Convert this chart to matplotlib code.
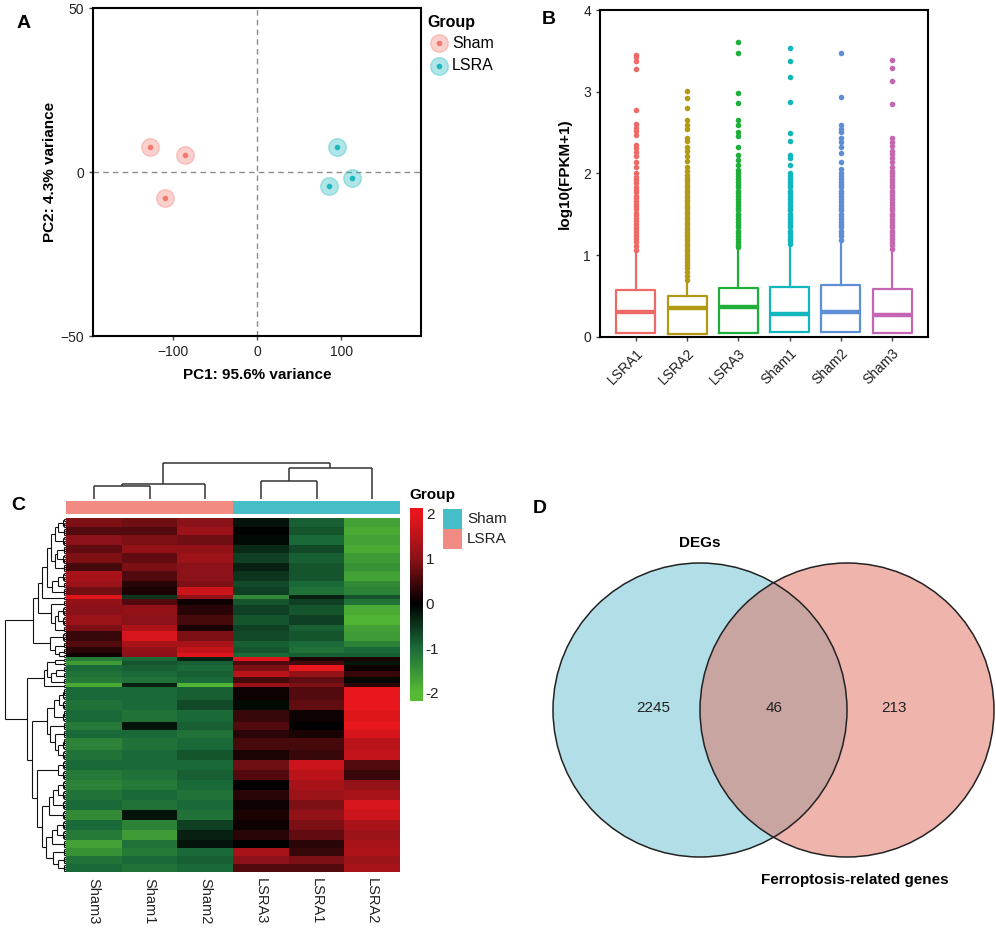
import numpy as np
import matplotlib
matplotlib.use('Agg')
import matplotlib.pyplot as plt
from matplotlib.colors import LinearSegmentedColormap, Normalize
from matplotlib.patches import Circle, Rectangle
from matplotlib.collections import LineCollection

plt.rcParams['font.family'] = ['Liberation Sans', 'DejaVu Sans']

W, H = 996, 930

# ---------------- A: PCA
pca_group = ['Sham', 'Sham', 'Sham', 'LSRA', 'LSRA', 'LSRA']
pc1 = [-127, -86, -109, 95, 113, 86]
pc2 = [7.6, 5.2, -7.9, 7.6, -1.9, -4.3]
pca_colors = {'Sham': '#F2796F', 'LSRA': '#1DB8BE'}

# ---------------- B: expression boxplots
box_samples = ['LSRA1', 'LSRA2', 'LSRA3', 'Sham1', 'Sham2', 'Sham3']
box_colors = ['#EE6A66', '#B39A14', '#1DAF3A', '#12B7BE', '#5E8ED6', '#C466B3']
box_q1 = [0.053, 0.033, 0.053, 0.057, 0.060, 0.053]
box_med = [0.31, 0.35, 0.37, 0.285, 0.30, 0.27]
box_q3 = [0.575, 0.50, 0.595, 0.61, 0.63, 0.59]
box_whishi = [1.03, 0.66, 1.07, 1.11, 1.15, 1.04]
box_fliers = [
    [3.45, 3.42, 3.38, 3.28, 2.78, 2.60, 2.56, 2.52, 2.47, 2.35, 2.31, 2.26, 2.21, 2.14, 2.08,
     2.01, 1.96, 1.92, 1.88, 1.84, 1.80, 1.77, 1.73, 1.70, 1.66, 1.63, 1.60, 1.56, 1.52, 1.49,
     1.45, 1.42, 1.38, 1.35, 1.31, 1.27, 1.24, 1.20, 1.16, 1.11, 1.07],
    [3.01, 2.92, 2.80, 2.66, 2.59, 2.55, 2.44, 2.40, 2.32, 2.28, 2.21, 2.15, 2.08, 2.03, 1.98,
     1.95, 1.92, 1.89, 1.86, 1.83, 1.80, 1.77, 1.74, 1.71, 1.68, 1.65, 1.62, 1.59, 1.56, 1.53,
     1.50, 1.47, 1.44, 1.41, 1.38, 1.35, 1.32, 1.29, 1.26, 1.23, 1.20, 1.17, 1.14, 1.11, 1.08,
     1.05, 1.02, 0.99, 0.96, 0.92, 0.88, 0.84, 0.80, 0.75, 0.70],
    [3.61, 3.48, 2.99, 2.86, 2.66, 2.59, 2.51, 2.46, 2.32, 2.23, 2.16, 2.10, 2.04, 2.00, 1.97,
     1.93, 1.90, 1.86, 1.83, 1.79, 1.76, 1.72, 1.69, 1.65, 1.62, 1.58, 1.55, 1.51, 1.48, 1.44,
     1.41, 1.37, 1.34, 1.30, 1.27, 1.23, 1.20, 1.16, 1.13, 1.10],
    [3.54, 3.38, 3.18, 2.87, 2.49, 2.40, 2.23, 2.19, 2.11, 2.00, 1.97, 1.93, 1.90, 1.86, 1.83,
     1.79, 1.76, 1.72, 1.69, 1.65, 1.62, 1.58, 1.55, 1.51, 1.48, 1.44, 1.41, 1.37, 1.34, 1.30,
     1.27, 1.23, 1.20, 1.17, 1.14],
    [3.47, 2.94, 2.59, 2.55, 2.51, 2.44, 2.39, 2.32, 2.25, 2.14, 2.06, 2.00, 1.97, 1.93, 1.90,
     1.86, 1.83, 1.79, 1.76, 1.72, 1.69, 1.65, 1.62, 1.58, 1.55, 1.51, 1.48, 1.44, 1.41, 1.37,
     1.34, 1.30, 1.27, 1.23, 1.19],
    [3.39, 3.29, 3.13, 2.85, 2.43, 2.39, 2.34, 2.28, 2.24, 2.19, 2.14, 2.08, 2.03, 2.00, 1.97,
     1.93, 1.90, 1.86, 1.83, 1.79, 1.76, 1.72, 1.69, 1.65, 1.62, 1.58, 1.55, 1.51, 1.48, 1.44,
     1.41, 1.37, 1.34, 1.30, 1.27, 1.23, 1.20, 1.16, 1.12, 1.08],
]

# ---------------- C: heatmap (z-scores, bands of rows read top to bottom)
heat_cols = ['Sham3', 'Sham1', 'Sham2', 'LSRA3', 'LSRA1', 'LSRA2']
heat_col_group = ['Sham', 'Sham', 'Sham', 'LSRA', 'LSRA', 'LSRA']
band_rows = [5, 4, 5, 4, 5, 4, 5, 3, 4, 2, 3, 5, 5, 3, 5, 3, 3, 2,
             2, 2, 3, 3, 3, 2,
             6, 5, 6, 4, 4, 6, 5, 5, 5, 5, 5, 5, 5, 5, 5, 4, 4, 4, 4]
band_values = [
    [0.9, 0.8, 1.0, -0.2, -0.9, -1.7],
    [0.6, 0.6, 1.2, 0.0, -0.8, -1.8],
    [1.0, 0.9, 0.8, -0.1, -1.0, -1.7],
    [0.7, 1.1, 1.1, -0.4, -0.7, -1.8],
    [0.9, 0.7, 1.2, -0.6, -0.9, -1.6],
    [0.5, 0.9, 1.0, -0.3, -0.8, -1.5],
    [1.3, 0.6, 1.0, -0.5, -0.8, -1.7],
    [1.2, 0.3, 0.9, -0.7, -1.0, -1.4],
    [0.8, 0.2, 1.7, -0.6, -1.1, -1.3],
    [1.9, -0.5, 1.1, -1.4, -0.3, -0.8],
    [1.1, 0.6, 0.1, -0.8, -0.6, -1.1],
    [1.0, 1.1, 0.3, -0.6, -0.8, -1.8],
    [1.2, 1.0, 0.5, -0.8, -0.6, -1.9],
    [0.9, 1.4, 0.2, -0.6, -0.9, -1.7],
    [0.4, 1.8, 0.9, -0.7, -0.8, -1.6],
    [0.6, 1.3, 1.3, -0.9, -1.0, -1.3],
    [0.3, 1.1, 1.6, -0.8, -1.1, -1.0],
    [0.1, 1.0, 1.9, -1.0, -0.9, -0.9],
    [-1.2, -1.0, -0.3, 1.9, 0.2, 0.2],
    [-1.6, -0.8, -0.9, 0.6, 0.5, -0.2],
    [-1.0, -0.9, -1.0, 0.9, 2.0, 0.1],
    [-1.1, -1.0, -0.9, 1.5, 1.1, 0.4],
    [-1.2, -1.1, -1.0, 0.5, 0.7, -0.1],
    [-1.8, -0.3, -1.9, 1.2, 0.9, 0.3],
    [-1.0, -1.0, -0.9, 0.1, 0.6, 2.0],
    [-1.1, -1.0, -0.7, -0.1, 0.7, 2.0],
    [-1.0, -1.1, -1.0, 0.4, 0.1, 1.9],
    [-1.2, -0.2, -0.9, 0.6, 0.0, 2.0],
    [-1.0, -1.0, -1.1, 0.3, 0.2, 1.8],
    [-1.3, -1.1, -1.0, 0.5, 0.5, 1.5],
    [-1.1, -1.0, -0.8, 0.2, 0.4, 1.6],
    [-1.0, -1.0, -1.0, 0.8, 1.7, 0.6],
    [-1.2, -1.1, -0.9, 0.6, 1.5, 0.4],
    [-1.3, -1.2, -1.0, 0.0, 1.3, 1.1],
    [-1.1, -1.0, -1.1, 0.3, 1.2, 1.3],
    [-1.0, -1.1, -1.0, 0.1, 0.9, 1.8],
    [-1.4, -0.2, -1.1, 0.2, 1.1, 1.7],
    [-1.0, -1.3, -0.6, 0.1, 0.9, 1.3],
    [-1.2, -1.6, -0.3, 0.3, 0.7, 1.2],
    [-1.7, -1.1, -0.2, 0.0, 0.3, 1.3],
    [-1.5, -1.2, -1.0, 1.3, 0.4, 1.4],
    [-1.1, -1.0, -0.9, 1.0, 0.9, 1.2],
    [-1.0, -1.1, -1.0, 0.6, 0.6, 1.3],
]
# column tree: (child a, child b, height), new clusters numbered from 6
col_merges = [(0, 1, 13), (6, 2, 15), (3, 4, 18), (8, 5, 31), (7, 9, 36)]
annot_colors = {'Sham': '#F28B82', 'LSRA': '#46BEC8'}
legend_entries = [('Sham', '#46BEC8'), ('LSRA', '#F28B82')]

# ---------------- D: venn
venn_sets = ['DEGs', 'Ferroptosis-related genes']
venn_counts = [2245, 46, 213]   # only DEGs, both, only ferroptosis


def px_rect(x0, y0, x1, y1):
    return [x0 / W, 1 - y1 / H, (x1 - x0) / W, (y1 - y0) / H]


def neighbour_tree(rows, step=0.06):
    # merge only neighbouring clusters (ward distance) so the row order is kept
    cl = [[i + 0.5, 0.0, np.array(r, float), 1] for i, r in enumerate(rows)]
    segs = []
    while len(cl) > 1:
        best, bk = None, 0
        for k in range(len(cl) - 1):
            a, b = cl[k], cl[k + 1]
            d = np.sqrt(2.0 * a[3] * b[3] / (a[3] + b[3])) * np.linalg.norm(a[2] - b[2])
            key = (round(d, 9), a[3] + b[3])
            if best is None or key < best:
                best, bk = key, k
        a, b = cl[bk], cl[bk + 1]
        h = max(a[1], b[1]) + best[0] + step
        segs += [[(np.sqrt(a[1]), a[0]), (np.sqrt(h), a[0])],
                 [(np.sqrt(b[1]), b[0]), (np.sqrt(h), b[0])],
                 [(np.sqrt(h), a[0]), (np.sqrt(h), b[0])]]
        n = a[3] + b[3]
        cl[bk:bk + 2] = [[(a[0] + b[0]) / 2, h, (a[2] * a[3] + b[2] * b[3]) / n, n]]
    return segs, np.sqrt(cl[0][1])


fig = plt.figure(figsize=(W / 100, H / 100), dpi=100)
ov = fig.add_axes([0, 0, 1, 1])
ov.set_xlim(0, W)
ov.set_ylim(H, 0)
ov.axis('off')

tick_kw = dict(direction='out', length=3, width=1, color='#444444', labelcolor='#222222', labelsize=10)

# ---- A
axA = fig.add_axes(px_rect(93, 8, 421, 336))
axA.axhline(0, color='#8c8c8c', lw=1, ls=(0, (4, 3)), zorder=1)
axA.axvline(0, color='#8c8c8c', lw=1, ls=(0, (4, 3)), zorder=1)
for g in ['Sham', 'LSRA']:
    xs = [x for x, gg in zip(pc1, pca_group) if gg == g]
    ys = [y for y, gg in zip(pc2, pca_group) if gg == g]
    c = pca_colors[g]
    axA.scatter(xs, ys, s=160, color=c, alpha=0.35, edgecolors=c, linewidths=1, zorder=3)
    axA.scatter(xs, ys, s=16, color=c, zorder=4, linewidths=0)
axA.set_xlim(-195, 195)
axA.set_ylim(-50, 50)
axA.set_xticks([-100, 0, 100])
axA.set_yticks([-50, 0, 50])
axA.tick_params(**tick_kw)
for s in axA.spines.values():
    s.set_linewidth(1.5)
axA.set_xlabel('PC1: 95.6% variance', fontsize=11, fontweight='bold', va='center')
axA.xaxis.set_label_coords(0.5, -0.119)
axA.set_ylabel('PC2: 4.3% variance', fontsize=11, fontweight='bold', va='center')
axA.yaxis.set_label_coords(-0.131, 0.5)

ov.text(427, 22, 'Group', fontsize=11.5, fontweight='bold', va='center', ha='left')
for i, g in enumerate(['Sham', 'LSRA']):
    yy = 43 + i * 23
    c = pca_colors[g]
    ov.scatter([439], [yy], s=160, color=c, alpha=0.35, edgecolors=c, linewidths=1)
    ov.scatter([439], [yy], s=16, color=c, linewidths=0)
    ov.text(452, yy, g, fontsize=11.5, va='center', ha='left')

# ---- B
axB = fig.add_axes(px_rect(600, 10, 928, 337))
for i in range(len(box_samples)):
    st = dict(med=box_med[i], q1=box_q1[i], q3=box_q3[i], whislo=box_q1[i],
              whishi=box_whishi[i], fliers=box_fliers[i])
    c = box_colors[i]
    axB.bxp([st], positions=[i + 1], widths=0.76, showcaps=False,
            boxprops=dict(color=c, lw=1.6),
            whiskerprops=dict(color=c, lw=1.6),
            medianprops=dict(color=c, lw=3.2),
            flierprops=dict(marker='o', markerfacecolor=c, markeredgecolor=c,
                            markersize=4.0, markeredgewidth=0))
axB.set_xlim(0.3, 6.7)
axB.set_ylim(0, 4)
axB.set_yticks([0, 1, 2, 3, 4])
axB.set_xticks(range(1, 7))
axB.set_xticklabels(box_samples, rotation=45, ha='right', rotation_mode='anchor')
axB.tick_params(**tick_kw)
for s in axB.spines.values():
    s.set_linewidth(1.5)
axB.set_ylabel('log10(FPKM+1)', fontsize=11, fontweight='bold', va='center')
axB.yaxis.set_label_coords(-0.107, 0.5)

# ---- C
heat = np.vstack([np.tile(v, (n, 1)) for n, v in zip(band_rows, band_values)])
nrow = heat.shape[0]
cmap = LinearSegmentedColormap.from_list(
    'gbr', [(0, '#55BB33'), (0.25, '#1B6A3A'), (0.5, '#000000'), (0.75, '#8A1218'), (1, '#E8161D')])
norm = Normalize(-2, 2)

axH = fig.add_axes(px_rect(66, 518, 400, 872))
axH.imshow(heat, aspect='auto', cmap=cmap, norm=norm, interpolation='nearest',
           extent=(0, 6, nrow, 0))
axH.set_xlim(0, 6)
axH.set_ylim(nrow, 0)
axH.axis('off')
for j, lab in enumerate(heat_cols):
    axH.text(j + 0.5, nrow + 3, lab, rotation=270, ha='center', va='top', fontsize=10.5,
             color='#222222')

axAn = fig.add_axes(px_rect(66, 501, 400, 514))
for j, g in enumerate(heat_col_group):
    axAn.add_patch(Rectangle((j, 0), 1, 1, color=annot_colors[g], lw=0))
axAn.set_xlim(0, 6)
axAn.set_ylim(0, 1)
axAn.axis('off')

# column dendrogram
axCd = fig.add_axes(px_rect(66, 460, 400, 499))
pos = {i: i + 0.5 for i in range(6)}
hgt = {i: 0.0 for i in range(6)}
csegs = []
for k, (a, b, h) in enumerate(col_merges):
    csegs += [[(pos[a], hgt[a]), (pos[a], h)], [(pos[b], hgt[b]), (pos[b], h)],
              [(pos[a], h), (pos[b], h)]]
    pos[6 + k] = (pos[a] + pos[b]) / 2
    hgt[6 + k] = h
axCd.add_collection(LineCollection(csegs, colors='#333333', linewidths=1.1))
axCd.set_xlim(0, 6)
axCd.set_ylim(0, 39)
axCd.axis('off')

# row dendrogram
rsegs, rtop = neighbour_tree(heat)
axRd = fig.add_axes(px_rect(4, 518, 66, 872))
axRd.add_collection(LineCollection(rsegs, colors='#111111', linewidths=0.8))
axRd.set_xlim(rtop * 1.01, 0)
axRd.set_ylim(nrow, 0)
axRd.axis('off')

# colour key
axCb = fig.add_axes(px_rect(410, 508, 423, 701))
grad = np.linspace(2.13, -2.18, 300)[:, None]
axCb.imshow(grad, aspect='auto', cmap=cmap, norm=norm, extent=(0, 1, -2.18, 2.13))
axCb.set_ylim(-2.18, 2.13)
axCb.set_xticks([])
axCb.yaxis.tick_right()
axCb.set_yticks([2, 1, 0, -1, -2])
axCb.set_yticklabels(['2', '1', '0', '-1', '-2'])
axCb.tick_params(length=0, pad=2, labelsize=11, labelcolor='#222222')
for s in axCb.spines.values():
    s.set_visible(False)

ov.text(409, 495, 'Group', fontsize=11, fontweight='bold', va='center', ha='left')
for i, (lab, c) in enumerate(legend_entries):
    y0 = 509 + i * 20
    ov.add_patch(Rectangle((443, y0), 19, 20, color=c, lw=0))
    ov.text(467, y0 + 10, lab, fontsize=11, va='center', ha='left', color='#222222')

# ---- D
r = 147
ov.add_patch(Circle((700, 710), r, fc='#67C1D1', alpha=0.5, ec='none'))
ov.add_patch(Circle((847, 710), r, fc='#E16D5D', alpha=0.5, ec='none'))
ov.add_patch(Circle((700, 710), r, fill=False, ec='#222222', lw=1.1))
ov.add_patch(Circle((847, 710), r, fill=False, ec='#222222', lw=1.1))
ov.text(653, 708, str(venn_counts[0]), fontsize=11, ha='center', va='center', color='#222222')
ov.text(774, 708, str(venn_counts[1]), fontsize=11, ha='center', va='center', color='#222222')
ov.text(894, 708, str(venn_counts[2]), fontsize=11, ha='center', va='center', color='#222222')
ov.text(700, 543, venn_sets[0], fontsize=11, fontweight='bold', ha='center', va='center')
ov.text(855, 880, venn_sets[1], fontsize=11, fontweight='bold', ha='center', va='center')

# panel letters
for lab, x, y in [('A', 24, 23), ('B', 549, 19), ('C', 18, 505), ('D', 540, 508)]:
    ov.text(x, y, lab, fontsize=14, fontweight='bold', ha='center', va='center')

fig.savefig('out.png', dpi=100)
